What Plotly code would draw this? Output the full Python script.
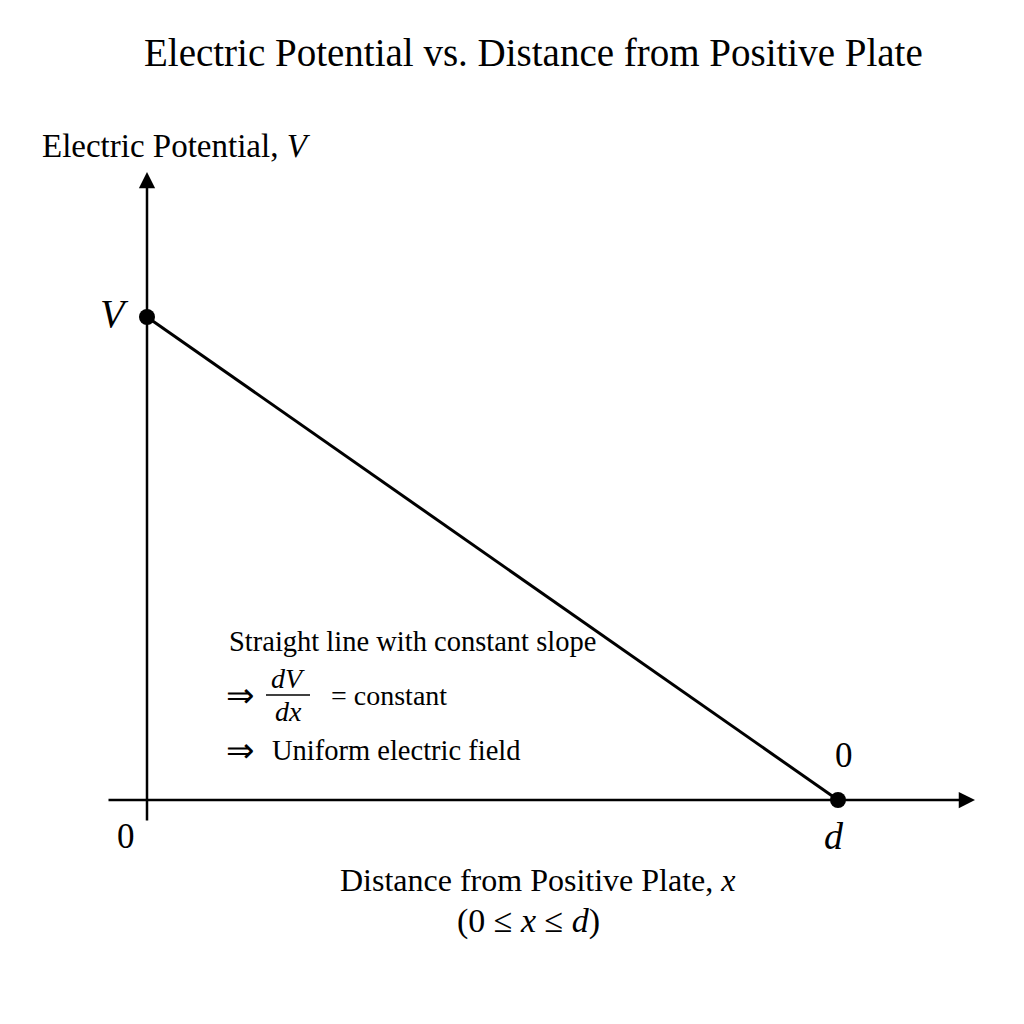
import plotly.graph_objects as go

# Data
x_vals = [0.0, 1.0]          # 0 and d
v_vals = [1.0, 0.0]          # V and 0
x_tick_labels = ["0", "d"]
v_tick_labels = ["V", "0"]

OFF = 8                      # page body margin
W = H = 1024 - OFF
FONT = "Liberation Serif, Times New Roman, serif"

# screen px: x=0 -> 147, x=1 -> 838 ; y=1 -> 317, y=0 -> 800
sx = 691.0
x0 = -(147 - OFF) / sx
x1 = x0 + W / sx
sy = 483.0
ytop = 1 + (317 - OFF) / sy
ybot = ytop - H / sy

def px(x):
    return (x - OFF) / W

def py(y):
    return 1 - (y - OFF) / H

fig = go.Figure()
fig.add_trace(go.Scatter(
    x=x_vals, y=v_vals, mode="lines+markers",
    line=dict(color="black", width=3),
    marker=dict(color="black", size=16),
    showlegend=False, hoverinfo="skip"))

ann = []
# axis arrows
ann.append(dict(x=(975 - 147) / sx, y=0, ax=(107 - 147) / sx, ay=0,
                xref="x", yref="y", axref="x", ayref="y", text="",
                showarrow=True, arrowhead=2, arrowsize=1.3, arrowwidth=2.5, arrowcolor="black"))
ann.append(dict(x=0, y=(800 - 172) / sy, ax=0, ay=(800 - 822) / sy,
                xref="x", yref="y", axref="x", ayref="y", text="",
                showarrow=True, arrowhead=2, arrowsize=1.3, arrowwidth=2.5, arrowcolor="black"))

def text(t, x, y, size, xanchor="center", italic=False):
    if italic:
        t = "<i>" + t + "</i>"
    ann.append(dict(text=t, x=px(x), y=py(y), xref="paper", yref="paper",
                    xanchor=xanchor, yanchor="middle", showarrow=False,
                    font=dict(family=FONT, size=size, color="black")))

text("Electric Potential vs. Distance from Positive Plate", 533, 52, 39)
text("Electric Potential, <i>V</i>", 40, 146, 33, xanchor="left")
text(v_tick_labels[0], 114, 313, 40, italic=True)
text(x_tick_labels[0], 126, 836, 35)
text(x_tick_labels[1], 834, 836, 38, italic=True)
text(v_tick_labels[1], 844, 755, 35)
text("Distance from Positive Plate, <i>x</i>", 537, 880, 32)
text("(0 ≤ <i>x</i> ≤ <i>d</i>)", 528, 921, 34)

text("Straight line with constant slope", 227, 641, 28.5, xanchor="left")
text("⇒", 224, 695, 34, xanchor="left")
text("<i>dV</i>", 288, 678, 28)
text("<i>dx</i>", 288, 711, 28)
text("= constant", 329, 695, 28, xanchor="left")
text("⇒", 224, 750, 34, xanchor="left")
text("Uniform electric field", 270, 750, 28.5, xanchor="left")

fig.add_shape(type="line", xref="paper", yref="paper",
              x0=px(266), x1=px(310), y0=py(695), y1=py(695),
              line=dict(color="black", width=1.5))

fig.update_layout(
    width=W, height=H,
    margin=dict(l=0, r=0, t=0, b=0),
    paper_bgcolor="white", plot_bgcolor="white",
    xaxis=dict(range=[x0, x1], visible=False, fixedrange=True),
    yaxis=dict(range=[ybot, ytop], visible=False, fixedrange=True),
    annotations=ann,
)

fig.write_html("out.html")
